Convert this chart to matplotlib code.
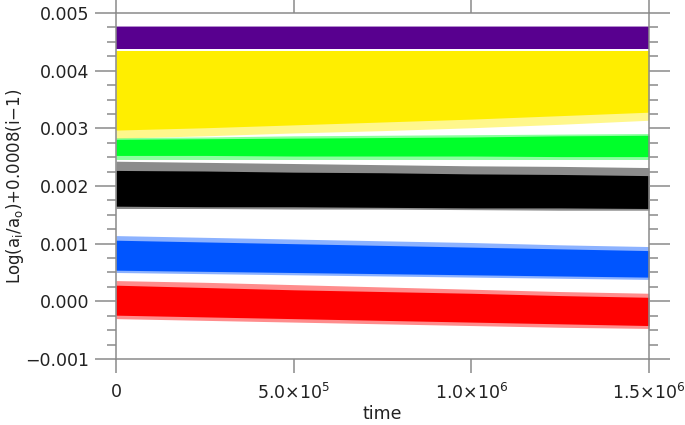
import numpy as np
import matplotlib.pyplot as plt
from matplotlib.ticker import MultipleLocator, FixedLocator

# 时间节点（读图估计的包络线）
t_knots = [0, 2.5e5, 5.0e5, 7.5e5, 1.0e6, 1.25e6, 1.5e6]

# 各条带的核心上下界与外围散点上下界
red_lo_out = [-0.00030, -0.00033, -0.00036, -0.00039, -0.00042, -0.00045, -0.00047]
red_lo = [-0.00024, -0.00027, -0.00030, -0.00033, -0.00036, -0.00039, -0.00042]
red_hi = [0.00028, 0.00024, 0.00020, 0.00017, 0.00014, 0.00010, 0.00007]
red_hi_out = [0.00036, 0.00033, 0.00029, 0.00025, 0.00021, 0.00017, 0.00014]

blue_lo_out = [0.00050, 0.00048, 0.00046, 0.00044, 0.00042, 0.00040, 0.00038]
blue_lo = [0.00054, 0.00052, 0.00050, 0.00048, 0.00046, 0.00044, 0.00042]
blue_hi = [0.00106, 0.00103, 0.00100, 0.00097, 0.00094, 0.00091, 0.00088]
blue_hi_out = [0.00114, 0.00111, 0.00108, 0.00105, 0.00102, 0.00098, 0.00095]

black_lo_out = [0.00161, 0.00161, 0.00160, 0.00160, 0.00159, 0.00158, 0.00158]
black_lo = [0.00165, 0.00164, 0.00164, 0.00163, 0.00162, 0.00162, 0.00161]
black_hi = [0.00227, 0.00226, 0.00224, 0.00223, 0.00221, 0.00220, 0.00218]
black_hi_out = [0.00243, 0.00241, 0.00239, 0.00237, 0.00235, 0.00234, 0.00232]

green_lo_out = [0.00246, 0.00246, 0.00246, 0.00246, 0.00246, 0.00246, 0.00246]
green_lo = [0.00253, 0.00253, 0.00252, 0.00252, 0.00252, 0.00251, 0.00251]
green_hi = [0.00281, 0.00282, 0.00283, 0.00284, 0.00285, 0.00287, 0.00288]
green_hi_out = [0.00284, 0.00285, 0.00287, 0.00288, 0.00289, 0.00290, 0.00291]

yellow_lo_out = [0.00283, 0.00287, 0.00292, 0.00296, 0.00301, 0.00307, 0.00314]
yellow_lo = [0.00297, 0.00301, 0.00306, 0.00311, 0.00316, 0.00322, 0.00328]
yellow_hi = [0.00435, 0.00435, 0.00435, 0.00435, 0.00435, 0.00435, 0.00435]

purple_lo = [0.00438, 0.00438, 0.00438, 0.00438, 0.00438, 0.00438, 0.00438]
purple_hi = [0.00475, 0.00475, 0.00475, 0.00475, 0.00475, 0.00475, 0.00475]
purple_hi_out = [0.00477, 0.00477, 0.00477, 0.00477, 0.00477, 0.00477, 0.00477]

x_ticks = [0, 5.0e5, 1.0e6, 1.5e6]
x_labels = ['0', r'5.0$\times$10$^{5}$', r'1.0$\times$10$^{6}$', r'1.5$\times$10$^{6}$']
y_ticks = [-0.001, 0.000, 0.001, 0.002, 0.003, 0.004, 0.005]
y_labels = ['\u22120.001', '0.000', '0.001', '0.002', '0.003', '0.004', '0.005']

axis_color = '#8a8a8a'

fig = plt.figure(figsize=(6.85, 4.25), dpi=100)
ax = fig.add_axes([0.1693, 0.1553, 0.9474 - 0.1693, 0.9694 - 0.1553])

t = np.array(t_knots)

# 红
ax.fill_between(t, red_lo_out, red_hi_out, color='#ff0000', alpha=0.45, lw=0)
ax.fill_between(t, red_lo, red_hi, color='#ff0000', lw=0)
# 蓝
ax.fill_between(t, blue_lo_out, blue_hi_out, color='#0055ff', alpha=0.45, lw=0)
ax.fill_between(t, blue_lo, blue_hi, color='#0055ff', lw=0)
# 黑
ax.fill_between(t, black_lo_out, black_hi_out, color='#000000', alpha=0.45, lw=0)
ax.fill_between(t, black_lo, black_hi, color='#000000', lw=0)
# 绿
ax.fill_between(t, green_lo_out, green_hi_out, color='#00ff2a', alpha=0.45, lw=0)
ax.fill_between(t, green_lo, green_hi, color='#00ff2a', lw=0)
# 黄
ax.fill_between(t, yellow_lo_out, yellow_hi, color='#ffee00', alpha=0.45, lw=0)
ax.fill_between(t, yellow_lo, yellow_hi, color='#ffee00', lw=0)
# 紫
ax.fill_between(t, purple_lo, purple_hi_out, color='#58008f', alpha=0.45, lw=0)
ax.fill_between(t, purple_lo, purple_hi, color='#58008f', lw=0)

ax.set_xlim(0, 1.5e6)
ax.set_ylim(-0.001, 0.005)

ax.xaxis.set_major_locator(FixedLocator(x_ticks))
ax.set_xticklabels(x_labels)
ax.yaxis.set_major_locator(FixedLocator(y_ticks))
ax.set_yticklabels(y_labels)
ax.yaxis.set_minor_locator(MultipleLocator(0.00025))

for sp in ax.spines.values():
    sp.set_color(axis_color)
    sp.set_linewidth(1.1)

ax.tick_params(axis='both', which='both', direction='out', colors=axis_color,
               labelcolor='#222222', labelsize=12.5, width=1.1)
ax.tick_params(axis='x', which='major', length=10, top=True, pad=7)
ax.tick_params(axis='y', which='major', length=15, right=True, pad=4)
ax.tick_params(axis='y', which='minor', length=6.5, right=True)

ax.set_xlabel('time', fontsize=12.5, color='#222222', labelpad=2)
ax.set_ylabel(r'Log(a$_\mathregular{i}$/a$_\mathregular{o}$)+0.0008(i$-$1)',
              fontsize=12, color='#222222', labelpad=0)

fig.savefig('out.png', dpi=100)
